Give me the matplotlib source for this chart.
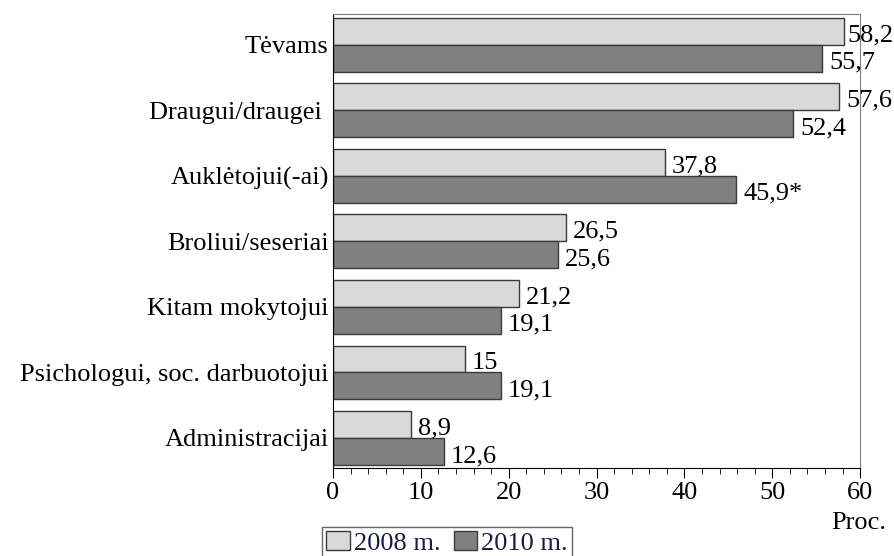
import matplotlib.pyplot as plt
from matplotlib.ticker import MultipleLocator
from matplotlib.patches import Patch

kategorijos = ["Tėvams", "Draugui/draugei ", "Auklėtojui(-ai)", "Broliui/seseriai",
               "Kitam mokytojui", "Psichologui, soc. darbuotojui", "Administracijai"]
metai_2008 = [58.2, 57.6, 37.8, 26.5, 21.2, 15.0, 8.9]
metai_2010 = [55.7, 52.4, 45.9, 25.6, 19.1, 19.1, 12.6]
zymos_2008 = ["58,2", "57,6", "37,8", "26,5", "21,2", "15", "8,9"]
zymos_2010 = ["55,7", "52,4", "45,9*", "25,6", "19,1", "19,1", "12,6"]

plt.rcParams['font.family'] = ['Liberation Serif', 'DejaVu Serif']
fs = 19

fig = plt.figure(figsize=(8.95, 5.56), dpi=100)
ax = fig.add_axes([0.372, 0.158, 0.589, 0.817])

h = 0.41
y = list(range(len(kategorijos)))
y1 = [i - h / 2 for i in y]
y2 = [i + h / 2 for i in y]
ax.barh(y1, metai_2008, height=h, color="#d9d9d9", edgecolor="#3a3a3a", linewidth=1)
ax.barh(y2, metai_2010, height=h, color="#808080", edgecolor="#3a3a3a", linewidth=1)

# reikšmės šalia stulpelių, kad netilptų už paveikslo krašto
for yy, v, t in zip(y1, metai_2008, zymos_2008):
    ax.text(min(v + 0.8, 58.6), yy + 0.06, t, va="center", ha="left", fontsize=fs)
for yy, v, t in zip(y2, metai_2010, zymos_2010):
    ax.text(min(v + 0.8, 58.6), yy + 0.07, t, va="center", ha="left", fontsize=fs)

ax.set_xlim(0, 60)
ax.set_ylim(6.46, -0.47)
ax.set_yticks(y)
ax.set_yticklabels(kategorijos, fontsize=fs)
ax.tick_params(axis="y", length=0, pad=3)
ax.xaxis.set_major_locator(MultipleLocator(10))
ax.xaxis.set_minor_locator(MultipleLocator(2))
ax.tick_params(axis="x", which="major", length=7, direction="out", labelsize=fs, pad=3)
ax.tick_params(axis="x", which="minor", length=4, direction="out")

for s in ["top", "right"]:
    ax.spines[s].set_color("#808080")
for s in ["left", "bottom"]:
    ax.spines[s].set_color("black")

fig.text(0.959, 0.059, "Proc.", ha="center", va="center", fontsize=fs)

rankenos = [Patch(facecolor="#d9d9d9", edgecolor="#3a3a3a", label="2008 m."),
            Patch(facecolor="#808080", edgecolor="#3a3a3a", label="2010 m.")]
leg = fig.legend(handles=rankenos, loc="upper left", bbox_to_anchor=(0.36, 0.052),
                 ncol=2, frameon=True, fancybox=False, fontsize=fs,
                 handlelength=0.9, handleheight=0.7, handletextpad=0.15,
                 columnspacing=0.5, borderpad=0.15, borderaxespad=0)
leg.get_frame().set_edgecolor("#404040")
for t in leg.get_texts():
    t.set_color("#1a1a4a")

fig.savefig("out.png", dpi=100)
